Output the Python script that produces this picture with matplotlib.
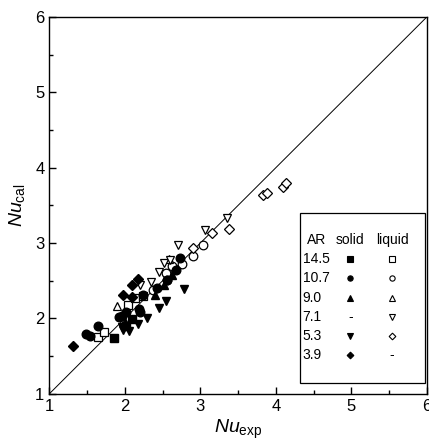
import matplotlib
matplotlib.use('Agg')
import matplotlib.pyplot as plt
from matplotlib.patches import Rectangle

plt.rcParams['font.family'] = ['Liberation Sans', 'DejaVu Sans']
plt.rcParams['mathtext.fontset'] = 'custom'
plt.rcParams['mathtext.rm'] = 'Liberation Sans'
plt.rcParams['mathtext.it'] = 'Liberation Sans:italic'

# Nu_exp / Nu_cal pairs for each aspect ratio (solid / liquid)
ar14_solid_x = [1.86, 2.09, 2.02]
ar14_solid_y = [1.74, 1.99, 1.90]
ar14_liq_x = [1.65, 1.73, 2.04, 2.13, 2.24]
ar14_liq_y = [1.75, 1.82, 2.18, 2.27, 2.30]

ar10_solid_x = [1.49, 1.54, 1.65, 1.92, 1.96, 2.02, 2.19, 2.20, 2.24, 2.42, 2.56, 2.68, 2.73]
ar10_solid_y = [1.80, 1.77, 1.90, 2.02, 2.03, 2.09, 2.12, 2.09, 2.31, 2.40, 2.51, 2.64, 2.80]
ar10_liq_x = [2.37, 2.55, 2.56, 2.62, 2.76, 2.90, 3.03]
ar10_liq_y = [2.38, 2.60, 2.51, 2.69, 2.72, 2.83, 2.98]

ar9_solid_x = [2.00, 2.40, 2.52, 2.62]
ar9_solid_y = [1.95, 2.31, 2.45, 2.58]
ar9_liq_x = [1.89, 2.59]
ar9_liq_y = [2.17, 2.79]

ar7_liq_x = [2.20, 2.34, 2.45, 2.52, 2.60, 2.71, 3.06, 3.35]
ar7_liq_y = [2.45, 2.49, 2.62, 2.74, 2.77, 2.98, 3.18, 3.33]

ar5_solid_x = [1.96, 1.98, 2.05, 2.18, 2.30, 2.45, 2.55, 2.78]
ar5_solid_y = [1.88, 1.85, 1.83, 1.93, 2.00, 2.14, 2.23, 2.39]
ar5_liq_x = [2.90, 3.16, 3.38, 3.83, 3.88, 4.10, 4.14]
ar5_liq_y = [2.93, 3.13, 3.19, 3.64, 3.66, 3.74, 3.80]

ar3_solid_x = [1.31, 1.98, 2.09, 2.10, 2.17]
ar3_solid_y = [1.64, 2.31, 2.45, 2.29, 2.52]

legend_ar = ['14.5', '10.7', '9.0', '7.1', '5.3', '3.9']
legend_solid = ['s', 'o', '^', None, 'v', 'D']
legend_liquid = ['s', 'o', '^', 'v', 'D', None]

fig = plt.figure(figsize=(4.29, 4.46), dpi=100)
ax = fig.add_axes([0.115, 0.117, 0.88, 0.845])

ax.plot([1, 6], [1, 6], color='black', linewidth=0.7)

ms = 6.2
solid = dict(linestyle='none', color='black', markersize=ms)
hollow = dict(linestyle='none', color='black', markerfacecolor='white',
              markersize=ms, markeredgewidth=0.9)

ax.plot(ar14_solid_x, ar14_solid_y, marker='s', **solid)
ax.plot(ar14_liq_x, ar14_liq_y, marker='s', **hollow)
ax.plot(ar10_liq_x, ar10_liq_y, marker='o', **hollow)
ax.plot(ar9_liq_x, ar9_liq_y, marker='^', **hollow)
ax.plot(ar7_liq_x, ar7_liq_y, marker='v', **hollow)
ax.plot(ar5_liq_x, ar5_liq_y, marker='D', **dict(hollow, markersize=5.3))
ax.plot(ar10_solid_x, ar10_solid_y, marker='o', **solid)
ax.plot(ar9_solid_x, ar9_solid_y, marker='^', **solid)
ax.plot(ar5_solid_x, ar5_solid_y, marker='v', **solid)
ax.plot(ar3_solid_x, ar3_solid_y, marker='D', **dict(solid, markersize=5.3))

ax.set_xlim(1, 6)
ax.set_ylim(1, 6)
ax.set_xticks(range(1, 7))
ax.set_yticks(range(1, 7))
ax.set_xticks([1.5, 2.5, 3.5, 4.5, 5.5], minor=True)
ax.set_yticks([1.5, 2.5, 3.5, 4.5, 5.5], minor=True)
ax.tick_params(which='both', direction='in', labelsize=12, width=1)
ax.tick_params(which='major', length=5)
ax.tick_params(which='minor', length=3)
for s in ax.spines.values():
    s.set_linewidth(1)

ax.set_xlabel(r'$Nu_{\rm exp}$', fontsize=14, labelpad=3)
ax.set_ylabel(r'$Nu_{\rm cal}$', fontsize=14, labelpad=6)

# hand-built table legend
ax.add_patch(Rectangle((0.663, 0.030), 0.332, 0.45, transform=ax.transAxes,
                       facecolor='white', edgecolor='black', linewidth=0.9))
fs = 10
row_h = 0.0512
y0 = 0.409
ax.text(0.682, y0, 'AR', transform=ax.transAxes, fontsize=fs, va='center')
ax.text(0.797, y0, 'solid', transform=ax.transAxes, fontsize=fs, va='center', ha='center')
ax.text(0.908, y0, 'liquid', transform=ax.transAxes, fontsize=fs, va='center', ha='center')
for i, ar in enumerate(legend_ar):
    y = y0 - (i + 1) * row_h
    ax.text(0.671, y, ar, transform=ax.transAxes, fontsize=fs, va='center')
    for xc, m, filled in [(0.797, legend_solid[i], True), (0.908, legend_liquid[i], False)]:
        if m is None:
            ax.text(xc, y, '-', transform=ax.transAxes, fontsize=fs, va='center', ha='center')
        else:
            ax.plot([xc], [y], marker=m, transform=ax.transAxes, color='black',
                    markerfacecolor='black' if filled else 'white',
                    markersize=3.8 if m != 'D' else 3.4, markeredgewidth=0.8,
                    linestyle='none', clip_on=False)

fig.savefig('out.png', dpi=100)
